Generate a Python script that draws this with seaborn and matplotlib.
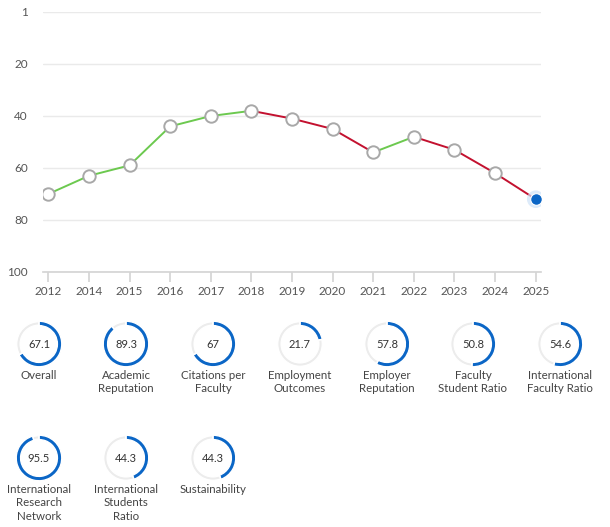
import matplotlib
matplotlib.use("Agg")
import matplotlib.pyplot as plt
import pandas as pd
import seaborn as sns

# Donnees du classement
years = ["2012", "2014", "2015", "2016", "2017", "2018", "2019",
         "2020", "2021", "2022", "2023", "2024", "2025"]
ranks = [70, 63, 59, 44, 40, 38, 41, 45, 54, 48, 53, 62, 72]

y_ticks = [0, 20, 40, 60, 80, 100]
y_labels = ["1", "20", "40", "60", "80", "100"]

# Scores des indicateurs
score_names = ["Overall", "Academic\nReputation", "Citations per\nFaculty",
               "Employment\nOutcomes", "Employer\nReputation",
               "Faculty\nStudent Ratio", "International\nFaculty Ratio",
               "International\nResearch\nNetwork", "International\nStudents\nRatio",
               "Sustainability"]
score_values = [67.1, 89.3, 67, 21.7, 57.8, 50.8, 54.6, 95.5, 44.3, 44.3]
score_text = ["67.1", "89.3", "67", "21.7", "57.8", "50.8", "54.6", "95.5", "44.3", "44.3"]

GREEN = "#6cc94f"
RED = "#c3112f"
BLUE = "#0b66c6"
TRACK = "#ececec"
TXT = "#555555"

sns.set_theme(style="white")
plt.rcParams['font.family'] = ['Lato', 'DejaVu Sans']

W, H = 610, 527
fig = plt.figure(figsize=(W / 100, H / 100), dpi=100)

# =============================================================================
# Graphe du rang
df = pd.DataFrame({"pos": range(len(years)), "rank": ranks})

ax = fig.add_axes([43 / W, 1 - 272 / H, (541 - 43) / W, (272 - 12) / H])
for i in range(len(df) - 1):
    seg = df.iloc[i:i + 2]
    col = GREEN if seg["rank"].iloc[1] < seg["rank"].iloc[0] else RED
    sns.lineplot(data=seg, x="pos", y="rank", color=col, linewidth=1.4, ax=ax, zorder=2)

sns.scatterplot(data=df.iloc[:-1], x="pos", y="rank", s=80, color="white",
                edgecolor="#a8a8a8", linewidth=1.4, ax=ax, zorder=3)
last = df.iloc[-1:]
sns.scatterplot(data=last, x="pos", y="rank", s=160, color="#cfe3f8",
                edgecolor="none", alpha=0.7, ax=ax, zorder=3)
sns.scatterplot(data=last, x="pos", y="rank", s=70, color=BLUE,
                edgecolor="white", linewidth=0.8, ax=ax, zorder=4)

ax.set_xlim(-0.13, len(years) - 1 + 0.13)
ax.set_ylim(100, 0)
ax.set_yticks(y_ticks)
ax.set_yticklabels(y_labels)
ax.set_xticks(range(len(years)))
ax.set_xticklabels(years)
ax.set_xlabel("")
ax.set_ylabel("")
ax.grid(axis="y", color="#eaeaea", linewidth=1)
for s in ["top", "right", "left"]:
    ax.spines[s].set_visible(False)
ax.spines["bottom"].set_color("#d5d5d5")
ax.tick_params(axis="x", bottom=True, length=7, color="#d5d5d5", colors=TXT,
               labelsize=8.5, pad=3)
ax.tick_params(axis="y", left=False, length=0, colors=TXT, labelsize=8.5, pad=11)
for lab in ax.get_xticklabels() + ax.get_yticklabels():
    lab.set_color(TXT)

# =============================================================================
# Anneaux des scores
centers = [(39, 344), (126, 344), (213, 344), (300, 344), (387, 344),
           (473, 344), (560, 344), (39, 458), (126, 458), (213, 458)]
R = 23
for (cx, cy), name, val, txt in zip(centers, score_names, score_values, score_text):
    a = fig.add_axes([(cx - R) / W, 1 - (cy + R) / H, 2 * R / W, 2 * R / H])
    a.pie([100], colors=[TRACK], radius=0.97, wedgeprops=dict(width=0.15))
    a.pie([val, 100 - val], colors=[BLUE, "none"], startangle=90,
          counterclock=False, radius=0.99, wedgeprops=dict(width=0.19))
    a.set_xlim(-1, 1)
    a.set_ylim(-1, 1)
    a.set_aspect("equal")
    a.axis("off")
    a.text(0, 0, txt, ha="center", va="center", fontsize=8, color="#333333")
    fig.text(cx / W, 1 - (cy + 26) / H, name, ha="center", va="top",
             fontsize=8.3, color="#444444", linespacing=1.25)

fig.savefig("out.png", dpi=100)
